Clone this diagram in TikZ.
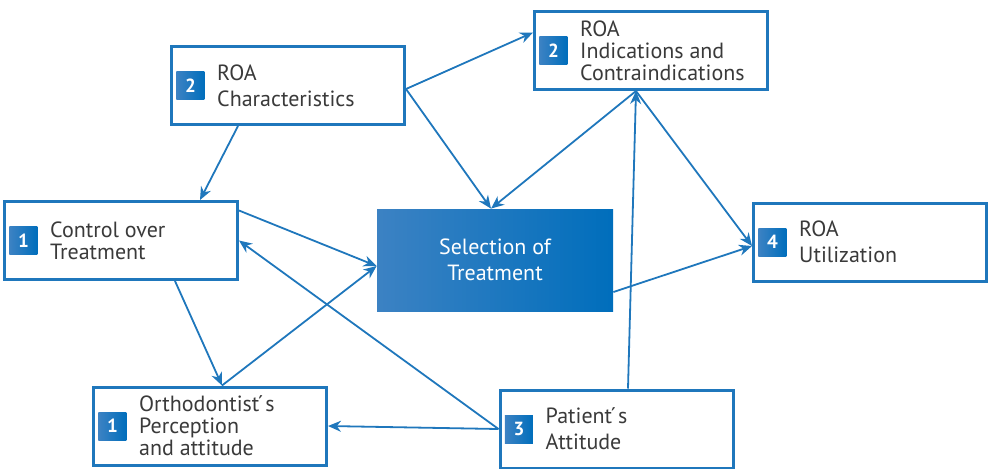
\documentclass[tikz,border=0pt]{standalone}
\usepackage{fontspec}
\setmainfont{PT Sans}
\usepackage{tikz}
\usetikzlibrary{arrows.meta,calc,positioning}
\usepackage{xcolor}
\definecolor{roablue}{RGB}{31,119,188}
\definecolor{roadark}{RGB}{0,110,188}
\definecolor{roalight}{RGB}{60,130,195}
\definecolor{roatext}{RGB}{58,58,58}

\tikzset{
  box/.style={draw=roablue,line width=1.5pt,fill=white,minimum width=116.5pt,minimum height=39pt,inner sep=0pt},
  badge/.style={left color=roalight,right color=roadark,text=white,font=\bfseries\fontsize{9.5}{10}\selectfont,minimum size=14pt,inner sep=0pt},
  lbl/.style={anchor=west,align=left,text=roatext,inner sep=0pt,font=\fontsize{11}{11}\selectfont},
  widelbl/.style={lbl,font=\fontsize{11}{13.2}\selectfont},
  link/.style={->,roablue,line width=0.9pt},
}

\begin{document}
\begin{tikzpicture}[x=0.5pt,y=-0.5pt,>={Stealth[length=6.5pt,width=5.5pt]}]
    \useasboundingbox (0,0) rectangle (992,468);
    \clip (0,0) rectangle (992,468);
    \node[box] (char) at (288,85.5) {};
    \node[badge,right=3pt of char.west] (charnum) {2};
    \node[widelbl,right=6pt of charnum] (chartxt) {ROA\\Characteristics};
    \node[box] (ctrl) at (121,240.5) {};
    \node[badge,right=3pt of ctrl.west] (ctrlnum) {1};
    \node[lbl,right=6pt of ctrlnum] (ctrltxt) {Control over\\Treatment};
    \node[box] (ind) at (651,50.5) {};
    \node[badge,right=3pt of ind.west] (indnum) {2};
    \node[lbl,right=6pt of indnum] (indtxt) {ROA\\Indications and\\Contraindications};
    \node[box] (util) at (870,242) {};
    \node[badge,right=3pt of util.west] (utilnum) {4};
    \node[widelbl,right=6pt of utilnum] (utiltxt) {ROA\\Utilization};
    \node[box] (orth) at (210,426) {};
    \node[badge,right=3pt of orth.west] (orthnum) {1};
    \node[lbl,right=6pt of orthnum] (orthtxt) {Orthodontist\'{}s\\Perception\\and attitude};
    \node[box] (pat) at (616.5,429) {};
    \node[badge,right=3pt of pat.west] (patnum) {3};
    \node[widelbl,right=6pt of patnum] (pattxt) {Patient\'{}s\\Attitude};
    \node[left color=roalight,right color=roadark,text=white,align=center,minimum width=118pt,minimum height=51pt,font=\fontsize{11}{13}\selectfont] (sel) at (495,260) {Selection of\\Treatment};
    \draw[link] ([xshift=-25pt]char.south) -- ([xshift=39.5pt]ctrl.north);
    \draw[link] ([yshift=-1.75pt]char.east) -- ([yshift=9pt]ind.west);
    \draw[link] ([yshift=-1.75pt]char.east) -- ([xshift=-2pt]sel.north);
    \draw[link] ([xshift=-7.5pt]ind.south) -- ([xshift=-2pt]sel.north);
    \draw[link] ([xshift=5.75pt]pat.north) -- ([xshift=-7.5pt]ind.south);
    \draw[link] ([xshift=-7.5pt]ind.south) -- ([yshift=-2pt]util.west);
    \draw[link] ([yshift=-16pt]sel.east) -- ([yshift=-2pt]util.west);
    \draw[link] ([yshift=15pt]ctrl.east) -- ([yshift=-3pt]sel.west);
    \draw[link] (pat.west) -- (ctrl.east);
    \draw[link] (pat.west) -- (orth.east);
    \draw[link] ([xshift=27pt]ctrl.south) -- ([xshift=6pt]orth.north);
    \draw[link] ([xshift=6pt]orth.north) -- ([yshift=-3pt]sel.west);
\end{tikzpicture}
\end{document}
